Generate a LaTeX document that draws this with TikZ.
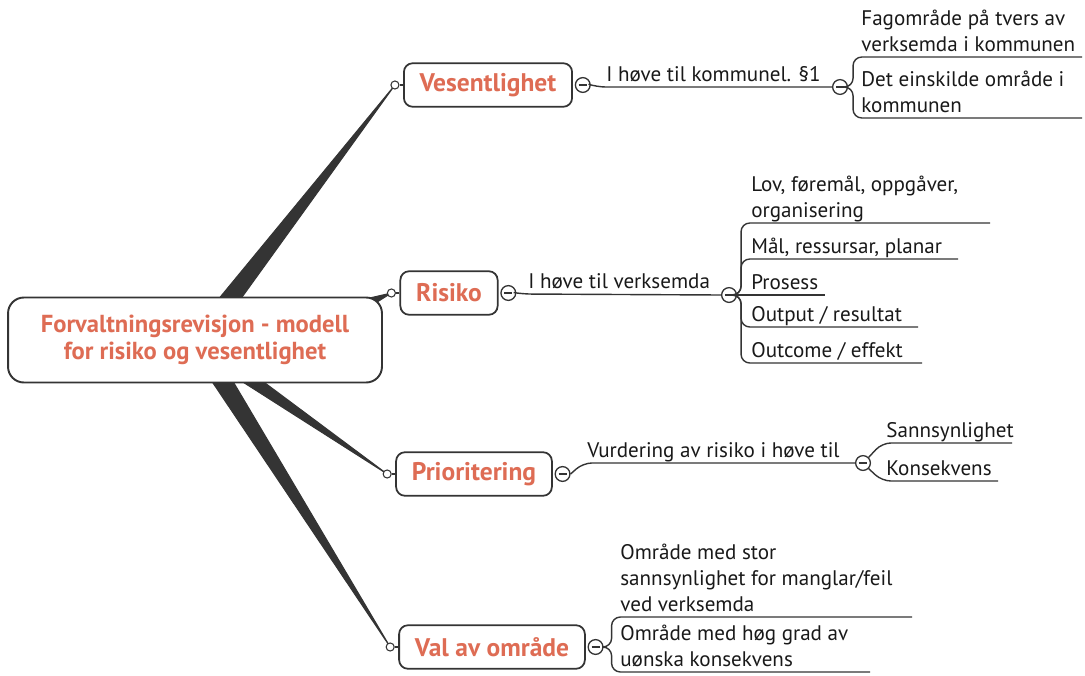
\documentclass[tikz,border=0pt]{standalone}
\usepackage{fontspec}
\setmainfont{PT Sans}
\usetikzlibrary{positioning,calc}
\definecolor{topictext}{RGB}{222,108,84}
\definecolor{mapline}{RGB}{52,52,52}
\pgfdeclarelayer{bg}
\pgfsetlayers{bg,main}
\tikzset{
  hub/.style={draw=mapline, line width=1.1pt, rounded corners=9pt, fill=white,
    text=topictext, align=center, font=\bfseries\fontsize{14}{15}\selectfont,
    minimum width=7.48cm, minimum height=1.7cm},
  topic/.style={draw=mapline, line width=1pt, rounded corners=5pt, fill=white,
    text=topictext, font=\bfseries\fontsize{14.5}{16}\selectfont,
    inner xsep=9pt, minimum height=0.87cm},
  knob/.style={circle, draw=mapline, fill=white, line width=0.6pt,
    inner sep=0pt, minimum size=4.6pt},
  fold/.style={circle, draw=mapline, fill=white, line width=0.75pt,
    inner sep=0pt, minimum size=8.4pt,
    path picture={\draw[mapline, line width=0.75pt]
      ([xshift=-2.3pt]path picture bounding box.center) --
      ([xshift=2.3pt]path picture bounding box.center);}},
  leaf/.style={anchor=south west, align=left, inner xsep=0pt, inner ysep=0pt,
    yshift=-1.2pt, text=black!90, font=\fontsize{12}{14.7}\selectfont,
    execute at end node=\strut},
  twig/.style={draw=mapline, line width=0.8pt, rounded corners=5pt},
  limb/.style={fill=mapline, draw=mapline, line width=0.6pt, line join=round}
}

\begin{document}
\begin{tikzpicture}[x=0.02cm, y=-0.02cm]
  \useasboundingbox (0,0) rectangle (1085,676);

  % centre and main topics
  \node[hub] (hub) at (195,340) {Forvaltningsrevisjon - modell\\for risiko og vesentlighet};
  \node[topic] (vesen) at (488,85) {Vesentlighet};
  \node[topic] (risiko) at (449,293) {Risiko};
  \node[topic] (prior) at (474,474) {Prioritering};
  \node[topic] (valomr) at (492,647) {Val av område};

  \foreach \t/\k in {vesen/kv, risiko/kr, prior/kp, valomr/ka}{
    \node[knob, left=2pt of \t] (\k) {};
    \draw[mapline, line width=0.6pt] (\k) -- (\t);
    \node[fold, right=1pt of \t] (f\k) {};
  }

  % tapered limbs from the centre
  \begin{pgfonlayer}{bg}
    \path[limb] ($(hub.north)+(24,2)$) -- ($(hub.north)+(46,2)$) -- (kv.center) -- cycle;
    \path[limb] ($(hub.north east)+(-20,3)$) -- ($(hub.north east)+(-13,10)$) -- (kr.center) -- cycle;
    \path[limb] ($(hub.south)+(47,-2)$) -- ($(hub.south)+(68,-2)$) -- (kp.center) -- cycle;
    \path[limb] ($(hub.south)+(17,-2)$) -- ($(hub.south)+(38,-2)$) -- (ka.center) -- cycle;
  \end{pgfonlayer}

  % Vesentlighet
  \node[fold] (fv2) at (840,87) {};
  \draw[twig] (fkv.east) -- ++(6,2) -- (fv2.west);
  \node[leaf] (tkomm) at (606,87) {I høve til kommunel. §1};
  \coordinate (fagend) at (1082,57);
  \coordinate (detend) at (1082,118);
  \draw[twig] (fv2.east) -- ++(5,0) |- (fagend);
  \draw[twig] (fv2.east) -- ++(5,0) |- (detend);
  \node[leaf] (tfag) at (861,57) {Fagområde på tvers av\\verksemda i kommunen};
  \node[leaf] (tdet) at (861,118) {Det einskilde område i\\kommunen};

  % Risiko
  \node[fold] (fr2) at (729,295) {};
  \draw[twig] (fkr.east) -- ++(6,1) -- (fr2.west);
  \node[leaf] (tverk) at (528,294) {I høve til verksemda};
  \coordinate (lovend) at (990,223);
  \coordinate (malend) at (958,259);
  \coordinate (prosend) at (825,295);
  \coordinate (outend) at (918,327);
  \coordinate (outcend) at (922,363);
  \foreach \e in {lovend, malend, outend, outcend}
    \draw[twig] (fr2.east) -- ++(4,0) |- (\e);
  \draw[twig] (fr2.east) -- (prosend);
  \node[leaf] (tlov) at (751,223) {Lov, føremål, oppgåver,\\organisering};
  \node[leaf] (tmal) at (751,259) {Mål, ressursar, planar};
  \node[leaf] (tpros) at (751,295) {Prosess};
  \node[leaf] (tout) at (751,327) {Output / resultat};
  \node[leaf] (toutc) at (751,363) {Outcome / effekt};

  % Prioritering
  \node[fold] (fp2) at (863,463) {};
  \draw[twig] (fkp.east) -- (583,463) -- (fp2.west);
  \node[leaf] (tvurd) at (587,463) {Vurdering av risiko i høve til};
  \coordinate (sannend) at (1012,443);
  \coordinate (konsend) at (998,481);
  \draw[twig] (fp2.north east) -- (882,443) -- (sannend);
  \draw[twig] (fp2.south east) -- (882,481) -- (konsend);
  \node[leaf] (tsann) at (886,443) {Sannsynlighet};
  \node[leaf] (tkons) at (886,481) {Konsekvens};

  % Val av omraade
  \coordinate (storend) at (912,617);
  \coordinate (hogend) at (870,672);
  \draw[twig] (fka.east) -- ++(8,0) |- (storend);
  \draw[twig] (fka.east) -- ++(8,0) |- (hogend);
  \node[leaf] (tstor) at (620,617) {Område med stor\\sannsynlighet for manglar/feil\\ved verksemda};
  \node[leaf] (thog) at (620,672) {Område med høg grad av\\uønska konsekvens};
\end{tikzpicture}
\end{document}
